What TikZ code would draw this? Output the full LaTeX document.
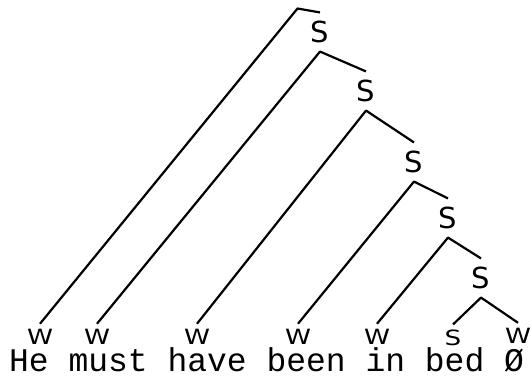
\documentclass[tikz,border=0pt]{standalone}
\usepackage{fontspec}
\setmainfont{Liberation Sans}
\newfontfamily\labfont{DejaVu Sans}
\newfontfamily\leaffont{DejaVu Sans}[FakeStretch=1.25]
\newfontfamily\sentfont{Liberation Mono}

\begin{document}
\begin{tikzpicture}[x=1pt, y=-1pt, line width=2.2pt, line join=round,
    slab/.style={inner sep=7.5pt, font=\labfont\fontsize{29}{29}\selectfont},
    leaf/.style={inner sep=4.5pt, font=\leaffont\fontsize{21}{21}\selectfont}]
        \useasboundingbox (0,0) rectangle (532,376);
        \coordinate (top) at (297.5,8.5);
        \node[slab] (s1) at (320,32) {S};
        \node[slab] (s2) at (366,91) {S};
        \node[slab] (s3) at (414,162) {S};
        \node[slab] (s4) at (448,218) {S};
        \node[slab] (s5) at (481,278) {S};
        \node[leaf] (w1) at (40,337) {W};
        \node[leaf] (w2) at (97,337) {W};
        \node[leaf] (w3) at (197,337) {W};
        \node[leaf] (w4) at (298,337) {W};
        \node[leaf] (w5) at (377,337) {W};
        \node[leaf] (s6) at (453,338) {S};
        \node[leaf] (w6) at (518,336) {W};
        \node[anchor=base west, inner sep=0pt, font=\sentfont\fontsize{33}{33}\selectfont] (sent) at (8,371) {He must have been in bed Ø};
        \draw (w1.north) -- (top) -- (s1.north);
        \draw (w2.north) -- (s1.south) -- (s2.north);
        \draw (w3.north) -- (s2.south) -- (s3.north);
        \draw (w4.north) -- (s3.south) -- (s4.north);
        \draw (w5.north) -- (s4.south) -- (s5.north);
        \draw (s6.north) -- (s5.south) -- (w6.north);
      \end{tikzpicture}
\end{document}
